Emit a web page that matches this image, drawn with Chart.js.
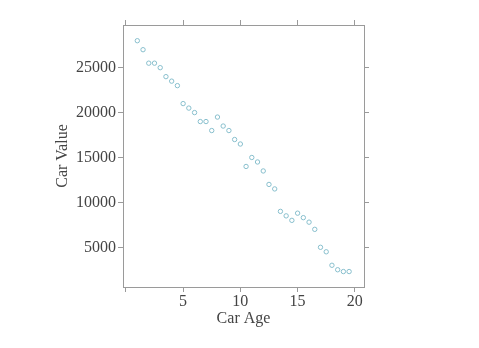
<!DOCTYPE html>
<html>
<head>
<meta charset="utf-8">
<script src="https://cdn.jsdelivr.net/npm/chart.js@4"></script>
<style>
  html, body { margin: 0; padding: 0; background: #fff; }
</style>
</head>
<body>
<canvas id="carChart" width="479" height="348"></canvas>
<script>
// car age (years) and value
const carAge = [1, 1.5, 2, 2.5, 3, 3.5, 4, 4.5, 5, 5.5, 6, 6.5, 7, 7.5, 8, 8.5, 9, 9.5, 10, 10.5,
  11, 11.5, 12, 12.5, 13, 13.5, 14, 14.5, 15, 15.5, 16, 16.5, 17, 17.5, 18, 18.5, 19, 19.5];
const carValue = [28000, 27000, 25500, 25500, 25000, 24000, 23500, 23000, 21000, 20500, 20000, 19000, 19000, 18000, 19500, 18500, 18000, 17000, 16500, 14000,
  15000, 14500, 13500, 12000, 11500, 9000, 8500, 8000, 8800, 8300, 7800, 7000, 5000, 4500, 3000, 2500, 2300, 2300];
const xTicks = [0, 5, 10, 15, 20];
const yTicks = [5000, 10000, 15000, 20000, 25000];

const axisGrey = '#9a9a9a';
const textGrey = '#444444';
const font = { family: 'Liberation Serif', size: 16 };

let points = [];
for (let i = 0; i < carAge.length; i++) {
  points.push({ x: carAge[i], y: carValue[i] });
}

function fixTicks(list) {
  return function(scale) {
    scale.ticks = list.map(v => ({ value: v }));
  };
}

function axisBase(list, min, max, position) {
  return {
    type: 'linear',
    position: position,
    min: min,
    max: max,
    afterBuildTicks: fixTicks(list),
    grid: { drawOnChartArea: false, drawTicks: true, tickLength: 5, color: axisGrey, lineWidth: 1 },
    border: { display: true, color: axisGrey, width: 1 },
    ticks: { font: font, color: textGrey, padding: 2, maxRotation: 0 }
  };
}

const xMain = axisBase(xTicks, -0.25, 20.8, 'bottom');
xMain.ticks.padding = 0;
xMain.ticks.callback = v => (v === 0 ? '' : String(v));
xMain.title = { display: true, text: 'Car Age', font: font, color: textGrey, padding: { top: 0, bottom: 20 } };
xMain.afterFit = s => { s.height = 61; };

const xTop = axisBase(xTicks, -0.25, 20.8, 'top');
xTop.ticks.color = 'rgba(0,0,0,0)';
xTop.afterFit = s => { s.height = 25; };

const yMain = axisBase(yTicks, 580, 29750, 'left');
yMain.ticks.callback = v => String(v);
yMain.title = { display: true, text: 'Car Value', font: font, color: textGrey, padding: { top: 53, bottom: 0 } };
yMain.afterFit = s => { s.width = 123; };

const yRight = axisBase(yTicks, 580, 29750, 'right');
yRight.ticks.color = 'rgba(0,0,0,0)';
yRight.afterFit = s => { s.width = 115; };

const chart = new Chart(document.getElementById('carChart'), {
  type: 'scatter',
  data: {
    datasets: [{
      data: points,
      pointStyle: 'circle',
      pointRadius: 2.2,
      pointBorderWidth: 1,
      pointBackgroundColor: 'rgba(0,0,0,0)',
      pointBorderColor: '#88bfcd',
      pointHoverRadius: 2.2
    }]
  },
  options: {
    responsive: false,
    animation: false,
    devicePixelRatio: 1,
    layout: { padding: 0 },
    plugins: { legend: { display: false }, tooltip: { enabled: false } },
    scales: { x: xMain, x2: xTop, y: yMain, y2: yRight }
  }
});
</script>
</body>
</html>
